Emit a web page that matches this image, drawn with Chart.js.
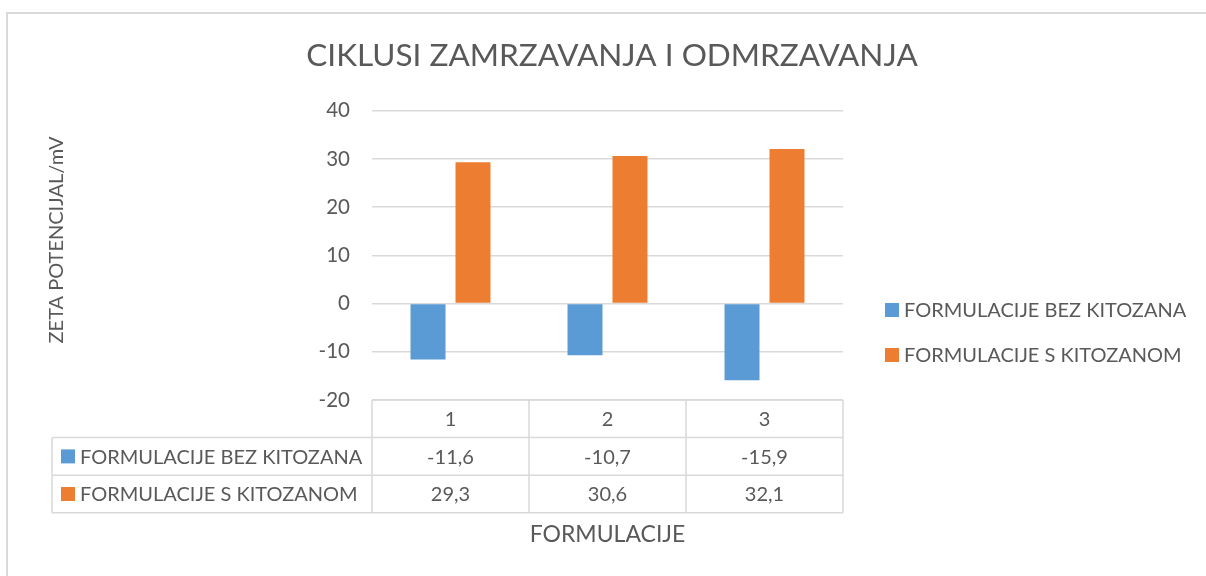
<!DOCTYPE html>
<html>
<head>
<meta charset="utf-8">
<script src="https://cdn.jsdelivr.net/npm/chart.js@4"></script>
<style>
  html, body { margin: 0; padding: 0; background: #fff; }
  #wrap { width: 1206px; height: 576px; position: relative; }
</style>
</head>
<body>
<div id="wrap"><canvas id="chart"></canvas></div>
<script>
const CATEGORIES = ['1', '2', '3'];
const SERIES_NAMES = ['FORMULACIJE BEZ KITOZANA', 'FORMULACIJE S KITOZANOM'];
const BEZ_KITOZANA = [-11.6, -10.7, -15.9];
const S_KITOZANOM = [29.3, 30.6, 32.1];
const Y_MIN = -20;
const Y_MAX = 40;
const Y_STEP = 10;

const TITLE = 'CIKLUSI ZAMRZAVANJA I ODMRZAVANJA';
const Y_TITLE = 'ZETA POTENCIJAL/mV';
const X_TITLE = 'FORMULACIJE';

const BLUE = '#5B9BD5';
const ORANGE = '#ED7D31';
const TEXT_COLOR = '#595959';
const GRID_COLOR = '#D9D9D9';
const FONT = 'Lato, "Open Sans", sans-serif';
const SERIES_COLORS = [BLUE, ORANGE];
const SERIES_DATA = [BEZ_KITOZANA, S_KITOZANOM];

const fmt = (v) => v.toFixed(1).replace('.', ',');

// outer frame of the chart object
const framePlugin = {
  id: 'frame',
  beforeDraw(chart) {
    const { ctx, width, height } = chart;
    ctx.save();
    ctx.strokeStyle = GRID_COLOR;
    ctx.lineWidth = 2;
    ctx.beginPath();
    ctx.moveTo(7, height);
    ctx.lineTo(7, 13);
    ctx.lineTo(width, 13);
    ctx.stroke();
    ctx.restore();
  },
};

// data table under the plot, legend on the right, rotated y title
const tablePlugin = {
  id: 'dataTable',
  afterDraw(chart) {
    const { ctx, chartArea } = chart;
    const xs = chart.scales.x;
    const colW = xs.width / CATEGORIES.length;
    const top = chartArea.bottom;
    const rowH = 37.6;
    const tableLeft = 52;
    const right = xs.right;

    ctx.save();
    ctx.strokeStyle = GRID_COLOR;
    ctx.lineWidth = 1.5;
    ctx.beginPath();
    ctx.moveTo(xs.left, top); ctx.lineTo(right, top);
    for (let r = 1; r <= 3; r++) {
      ctx.moveTo(tableLeft, top + r * rowH);
      ctx.lineTo(right, top + r * rowH);
    }
    ctx.moveTo(tableLeft, top + rowH); ctx.lineTo(tableLeft, top + 3 * rowH);
    for (let c = 0; c <= CATEGORIES.length; c++) {
      const x = xs.left + c * colW;
      ctx.moveTo(x, top); ctx.lineTo(x, top + 3 * rowH);
    }
    ctx.stroke();

    ctx.font = '20px ' + FONT;
    ctx.fillStyle = TEXT_COLOR;
    ctx.textBaseline = 'middle';
    ctx.textAlign = 'center';
    CATEGORIES.forEach((cat, i) => {
      const cx = xs.getPixelForValue(i);
      ctx.fillText(cat, cx, top + rowH / 2 + 1);
      SERIES_DATA.forEach((vals, s) => {
        ctx.fillText(fmt(vals[i]), cx, top + rowH * (s + 1.5) + 1);
      });
    });

    ctx.textAlign = 'left';
    SERIES_NAMES.forEach((name, s) => {
      const cy = top + rowH * (s + 1.5);
      ctx.fillStyle = SERIES_COLORS[s];
      ctx.fillRect(61, cy - 7, 14, 14);
      ctx.fillStyle = TEXT_COLOR;
      ctx.fillText(name, 80, cy + 1);
    });

    // legend
    const legendY = [310, 355];
    SERIES_NAMES.forEach((name, s) => {
      ctx.fillStyle = SERIES_COLORS[s];
      ctx.fillRect(885, legendY[s] - 7, 14, 14);
      ctx.fillStyle = TEXT_COLOR;
      ctx.fillText(name, 904, legendY[s] + 1);
    });

    // y axis title
    ctx.translate(57, 240);
    ctx.rotate(-Math.PI / 2);
    ctx.textAlign = 'center';
    ctx.font = '20px ' + FONT;
    ctx.fillText(Y_TITLE, 0, 0);
    ctx.restore();
  },
};

const DATASETS = SERIES_NAMES.map((name, s) => ({
  label: name,
  data: SERIES_DATA[s],
  backgroundColor: SERIES_COLORS[s],
  borderWidth: 0,
  categoryPercentage: 0.573,
  barPercentage: 0.778,
  yAxisID: 'y',
}));

const SCALES = {
  x: {
    grid: { display: false },
    border: { display: false },
    ticks: { display: false },
    title: {
      display: true,
      text: X_TITLE,
      color: TEXT_COLOR,
      font: { family: FONT, size: 23 },
      padding: { top: 0, bottom: 28 },
    },
    afterFit: (scale) => { scale.height = 176; },
  },
  y: {
    position: 'left',
    min: Y_MIN,
    max: Y_MAX,
    grid: { color: GRID_COLOR, lineWidth: 1.5, drawTicks: false },
    border: { display: false },
    ticks: {
      stepSize: Y_STEP,
      color: TEXT_COLOR,
      font: { family: FONT, size: 20.5 },
      padding: 22,
    },
    afterFit: (scale) => { scale.width = 354; },
  },
  yRight: {
    position: 'right',
    grid: { display: false },
    border: { display: false },
    ticks: { display: false },
    afterFit: (scale) => { scale.width = 363; },
  },
};

new Chart(document.getElementById('chart'), {
  type: 'bar',
  data: { labels: CATEGORIES, datasets: DATASETS },
  options: {
    responsive: true,
    maintainAspectRatio: false,
    animation: false,
    layout: { padding: { left: 18, right: 0, top: 0, bottom: 0 } },
    scales: SCALES,
    plugins: {
      legend: { display: false },
      tooltip: { enabled: false },
      title: {
        display: true,
        text: TITLE,
        color: TEXT_COLOR,
        font: { family: FONT, size: 31.5, weight: 'normal' },
        padding: { top: 37, bottom: 36 },
      },
    },
  },
  plugins: [framePlugin, tablePlugin],
});
</script>
</body>
</html>
